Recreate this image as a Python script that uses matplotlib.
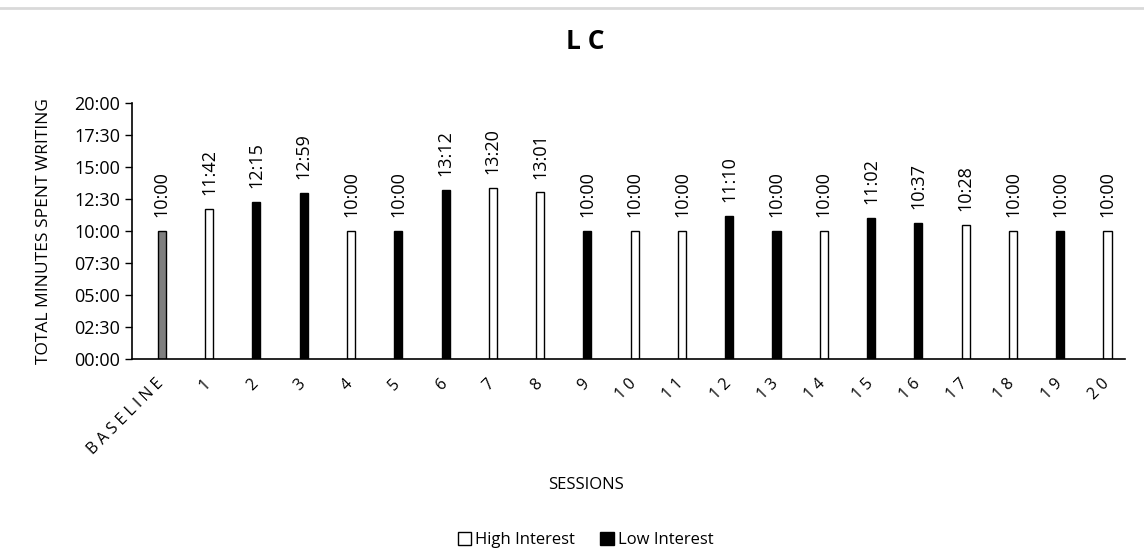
import matplotlib
matplotlib.use("Agg")
import matplotlib.pyplot as plt
from matplotlib.patches import Patch
from matplotlib.lines import Line2D
from matplotlib.ticker import FuncFormatter, MultipleLocator

plt.rcParams['font.family'] = ['Open Sans', 'DejaVu Sans']

# data
sessions = ["BASELINE"] + [str(i) for i in range(1, 21)]
times = ["10:00", "11:42", "12:15", "12:59", "10:00", "10:00", "13:12", "13:20", "13:01", "10:00",
         "10:00", "10:00", "11:10", "10:00", "10:00", "11:02", "10:37", "10:28", "10:00", "10:00", "10:00"]
interest = ["base", "high", "low", "low", "high", "low", "low", "high", "high", "low",
            "high", "high", "low", "low", "high", "low", "low", "high", "high", "low", "high"]

fills = {"base": "#7f7f7f", "high": "white", "low": "black"}


def to_minutes(s):
    m, sec = s.split(":")
    return int(m) + int(sec) / 60


def fmt(v, pos):
    tot = int(round(v * 60))
    return f"{tot // 60:02d}:{tot % 60:02d}"


values = [to_minutes(t) for t in times]
xs = list(range(len(sessions)))
bar_x = [x + 0.13 for x in xs]  # excel puts bars a bit right of category centre

fig = plt.figure(figsize=(11.44, 5.6), dpi=100)
ax = fig.add_axes([0.1154, 0.359, 0.868, 0.457])

ax.bar(bar_x, values, width=0.17, color=[fills[k] for k in interest],
       edgecolor="black", linewidth=1.0)
for x, v, t in zip(bar_x, values, times):
    ax.annotate(t, (x, v), xytext=(0, 10), textcoords="offset points",
                rotation=90, ha="center", va="bottom", fontsize=13)

ax.set_xlim(-0.5, len(sessions) - 0.5)
ax.set_ylim(0, 20)
ax.yaxis.set_major_locator(MultipleLocator(2.5))
ax.yaxis.set_major_formatter(FuncFormatter(fmt))
ax.tick_params(axis="y", labelsize=13, length=5, width=1)
ax.set_xticks(xs)
# spaced letters like the excel axis
spaced = [" ".join(s) for s in sessions]
ax.set_xticklabels(spaced, rotation=45, ha="right", rotation_mode="anchor", fontsize=11.5)
ax.tick_params(axis="x", length=0, pad=12)

ax.spines["top"].set_visible(False)
ax.spines["right"].set_visible(False)
ax.spines["left"].set_linewidth(1.2)
ax.spines["bottom"].set_linewidth(1.2)

ax.set_ylabel("TOTAL MINUTES SPENT WRITING", fontsize=12.5)
ax.yaxis.set_label_coords(-0.081, 0.5)
fig.text(0.512, 0.134, "SESSIONS", fontsize=12, ha="center", va="center")
fig.suptitle("L C", fontsize=19, fontweight="bold", x=0.512, y=0.95)

handles = [Patch(facecolor="white", edgecolor="black", label="High Interest"),
           Patch(facecolor="black", edgecolor="black", label="Low Interest")]
fig.legend(handles=handles, loc="center", bbox_to_anchor=(0.512, 0.036), ncol=2,
           frameon=False, fontsize=12, handlelength=0.8, handleheight=0.8,
           handletextpad=0.25, columnspacing=1.5)

fig.add_artist(Line2D([0, 1], [0.986, 0.986], color="#d9d9d9", linewidth=2,
                      transform=fig.transFigure))

fig.savefig("out.png", dpi=100)
